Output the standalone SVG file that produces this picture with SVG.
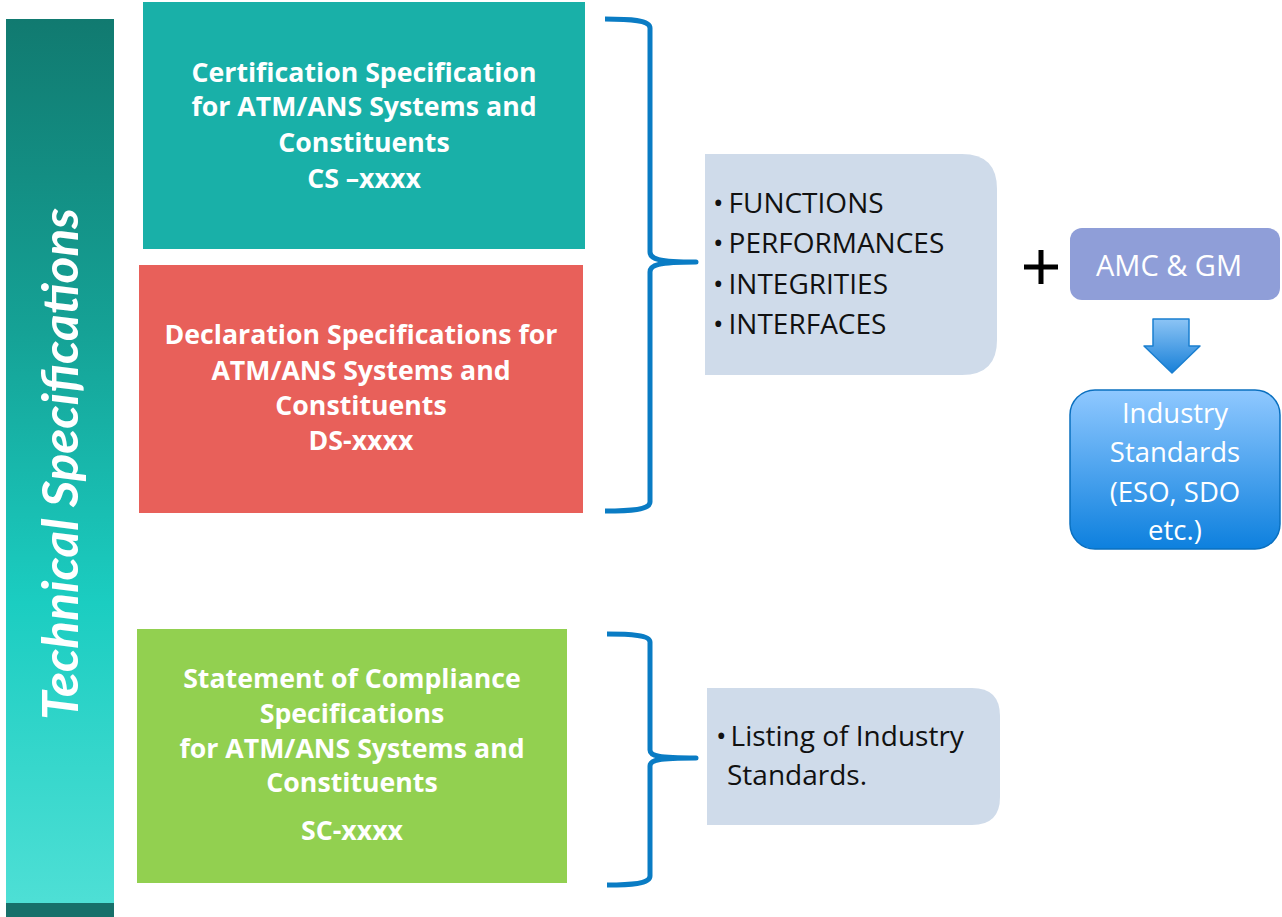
<svg xmlns="http://www.w3.org/2000/svg" width="1282" height="917" viewBox="0 0 1282 917">
<defs>
<linearGradient id="barG" x1="0" y1="0" x2="0" y2="1">
<stop offset="0" stop-color="#117a70"/>
<stop offset="0.35" stop-color="#15a296"/>
<stop offset="0.65" stop-color="#1bcdc1"/>
<stop offset="1" stop-color="#50e0d6"/>
</linearGradient>
<linearGradient id="stdG" x1="0" y1="0" x2="0" y2="1">
<stop offset="0" stop-color="#8fc8ff"/>
<stop offset="1" stop-color="#0d80de"/>
</linearGradient>
<linearGradient id="arrG" x1="0" y1="0" x2="0" y2="1">
<stop offset="0" stop-color="#8cc4f5"/>
<stop offset="1" stop-color="#1880d8"/>
</linearGradient>
<style>
.hd{font-family:"Open Sans",Lato,sans-serif;font-weight:bold;font-size:26.7px;fill:#fff;text-anchor:middle}
.bl{font-family:"Open Sans",Lato,sans-serif;font-size:28px;fill:#111}
.wt{font-family:"Open Sans",Lato,sans-serif;font-size:27.5px;fill:#fff;text-anchor:middle}
.br{fill:none;stroke:#0a7cc4;stroke-width:5;stroke-linecap:butt;stroke-linejoin:round}
.lb{fill:#cfdbea}
</style>
</defs>

<g id="bar">
<rect x="6" y="19" width="108" height="898" fill="url(#barG)"/>
<rect x="6" y="903" width="108" height="14" fill="#17706a"/>
<text transform="translate(78,464) rotate(-90)" text-anchor="middle" font-family="Lato,'Open Sans',sans-serif" font-weight="bold" font-style="italic" font-size="50" fill="#fff" textLength="512" lengthAdjust="spacingAndGlyphs">Technical Specifications</text>
</g>

<g id="cs">
<rect x="143" y="2" width="442" height="247" fill="#19b0a8"/>
<text class="hd"><tspan x="364" y="82">Certification Specification</tspan><tspan x="364" y="116">for ATM/ANS Systems and</tspan><tspan x="364" y="152">Constituents</tspan><tspan x="364" y="188">CS –xxxx</tspan></text>
</g>

<g id="ds">
<rect x="139" y="265" width="444" height="248" fill="#e8605a"/>
<text class="hd"><tspan x="361" y="344">Declaration Specifications for</tspan><tspan x="361" y="380">ATM/ANS Systems and</tspan><tspan x="361" y="415">Constituents</tspan><tspan x="361" y="450">DS-xxxx</tspan></text>
</g>

<g id="sc">
<rect x="137" y="629" width="430" height="254" fill="#92d050"/>
<text class="hd"><tspan x="352" y="688">Statement of Compliance</tspan><tspan x="352" y="723">Specifications</tspan><tspan x="352" y="758">for ATM/ANS Systems and</tspan><tspan x="352" y="792">Constituents</tspan><tspan x="352" y="840">SC-xxxx</tspan></text>
</g>

<g id="connectors">
<path class="br" d="M605,19 C630,19 650,20 650,28 L650,252 C650,259 658,262 696,262 C658,262 650,265 650,272 L650,502 C650,510 630,511 605,511"/>
<path class="br" d="M607,634 C630,634 650,635 650,642 L650,750 C650,756 658,758 696,758 C658,758 650,760 650,766 L650,876 C650,884 630,885 607,885"/>
<path d="M1153,319 L1189,319 L1189,346 L1200,346 L1172,373 L1144,346 L1153,346 Z" fill="url(#arrG)" stroke="#1a7fd0" stroke-width="1.5" stroke-linejoin="round"/>
</g>

<g id="func">
<path class="lb" d="M705,154 L962,154 Q997,154 997,189 L997,340 Q997,375 962,375 L705,375 Z"/>
<text class="bl"><tspan x="713" y="213">•<tspan dx="5">FUNCTIONS</tspan></tspan><tspan x="713" y="253">•<tspan dx="5">PERFORMANCES</tspan></tspan><tspan x="713" y="294">•<tspan dx="5">INTEGRITIES</tspan></tspan><tspan x="713" y="334">•<tspan dx="5">INTERFACES</tspan></tspan></text>
</g>

<g id="listing">
<path class="lb" d="M707,688 L972,688 Q1000,688 1000,716 L1000,797 Q1000,825 972,825 L707,825 Z"/>
<text class="bl"><tspan x="716" y="746">•<tspan dx="4">Listing of Industry</tspan></tspan><tspan x="727" y="785">Standards.</tspan></text>
</g>

<g id="plus">
<path d="M1024,267 L1058,267 M1041,250 L1041,284" stroke="#000" stroke-width="5"/>
</g>

<g id="amc">
<rect x="1070" y="228" width="210" height="72" rx="12" fill="#8f9ed8"/>
<text class="wt" x="1169" y="276" style="font-size:29px">AMC &amp; GM</text>
</g>

<g id="std">
<rect x="1070" y="390" width="210" height="159" rx="25" fill="url(#stdG)" stroke="#0a70c0" stroke-width="1.5"/>
<text class="wt"><tspan x="1175" y="423">Industry</tspan><tspan x="1175" y="462">Standards</tspan><tspan x="1175" y="502">(ESO, SDO</tspan><tspan x="1175" y="540">etc.)</tspan></text>
</g>
</svg>
